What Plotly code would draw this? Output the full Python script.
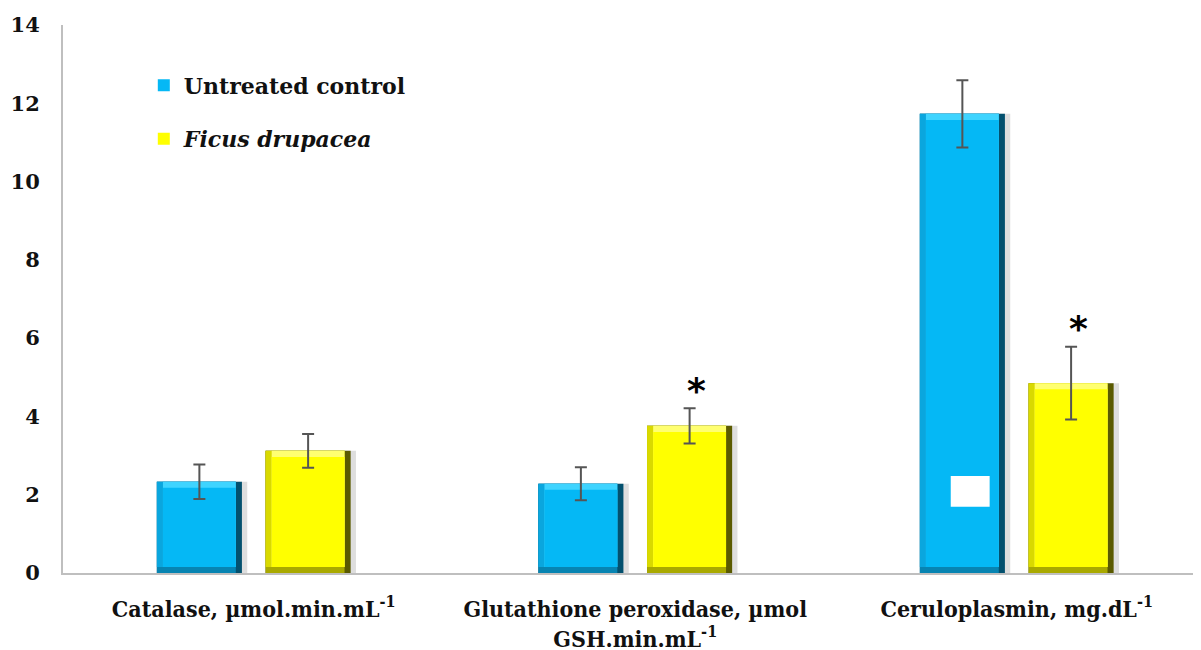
import plotly.graph_objects as go

categories = ["Catalase, µmol.min.mL<sup>-1</sup>",
              "Glutathione peroxidase, µmol<br>GSH.min.mL<sup>-1</sup>",
              "Ceruloplasmin, mg.dL<sup>-1</sup>"]
control_vals = [2.33, 2.28, 11.73]
control_err = [0.44, 0.42, 0.86]
ficus_vals = [3.12, 3.76, 4.85]
ficus_err = [0.43, 0.45, 0.93]
significant = [False, True, True]
yticks = [0, 2, 4, 6, 8, 10, 12, 14]

x = [0, 1, 2]
W = 0.223
off_c = -0.254
off_f = 0.031
BX = 0.016   # bevel width in x units
BY = 0.155   # bevel height in y units

series = [
    dict(vals=control_vals, err=control_err, off=off_c, name="Untreated control",
         right="#03506E", bottom="#0784B2", left="#0AA6DE", top="#3FD4FF",
         main="#05B8F5"),
    dict(vals=ficus_vals, err=ficus_err, off=off_f, name="<i>Ficus drupacea</i>",
         right="#5A5A00", bottom="#A9A900", left="#D9D900", top="#FFFF70",
         main="#FFFF00"),
]

fig = go.Figure()
# soft shadows
for s in series:
    fig.add_trace(go.Bar(x=x, y=s["vals"], width=W, offset=s["off"] + 0.014,
                         marker=dict(color="rgba(0,0,0,0.13)", line=dict(width=0)),
                         showlegend=False, hoverinfo="skip"))


def layer(fig, x, y, base, width, offset, color, **kw):
    fig.add_trace(go.Bar(x=x, y=y, base=base, width=width, offset=offset,
                         marker=dict(color=color, line=dict(width=0)), **kw))


for k, s in enumerate(series):
    v = s["vals"]
    o = s["off"]
    nolg = dict(showlegend=False, hoverinfo="skip")
    layer(fig, x, v, [0] * 3, W, o, s["right"], **nolg)
    layer(fig, x, v, [0] * 3, W - BX, o, s["bottom"], **nolg)
    layer(fig, x, [vi - BY for vi in v], [BY] * 3, W - BX, o, s["left"], **nolg)
    layer(fig, x, [vi - BY for vi in v], [BY] * 3, W - 2 * BX, o + BX, s["top"], **nolg)
    layer(fig, x, [vi - 2 * BY for vi in v], [BY] * 3, W - 2 * BX, o + BX, s["main"],
          name=s["name"], legendgroup=str(k))

# error bars on top
for s in series:
    fig.add_trace(go.Bar(x=x, y=s["vals"], width=W, offset=s["off"],
                         marker=dict(color="rgba(0,0,0,0)", line=dict(width=0)),
                         error_y=dict(type="data", array=s["err"], color="#555555",
                                      thickness=2, width=6),
                         showlegend=False, hoverinfo="skip"))

for i, sg in enumerate(significant):
    if sg:
        fig.add_annotation(x=x[i] + off_f + W / 2, y=ficus_vals[i] + ficus_err[i],
                           text="<b>*</b>", showarrow=False, yshift=18, xshift=7,
                           font=dict(size=36, color="black", family="DejaVu Sans"))

# white patch artifact on ceruloplasmin bar
fig.add_shape(type="rect", x0=1.827, x1=1.929, y0=1.69, y1=2.48,
              fillcolor="white", line=dict(width=0), layer="above")

fig.update_layout(
    width=1193, height=642,
    margin=dict(l=55, r=0, t=17, b=77),
    plot_bgcolor="white", paper_bgcolor="white",
    barmode="overlay",
    showlegend=True,
    legend=dict(x=0.071, y=0.928, xanchor="left", yanchor="top",
                font=dict(family="DejaVu Serif", size=22, color="#111111", weight="bold"),
                tracegroupgap=22, bgcolor="rgba(0,0,0,0)", itemwidth=30),
    xaxis=dict(range=[-0.5, 2.483], tickmode="array", tickvals=x, ticktext=categories,
               showline=True, linecolor="#BFBFBF", linewidth=2, ticks="",
               showgrid=False, zeroline=False, automargin=False, ticklabelstandoff=14,
               tickfont=dict(family="DejaVu Serif Condensed", size=23, color="#111111",
                             weight="bold")),
    yaxis=dict(range=[0, 14], tickmode="array", tickvals=yticks,
               showline=True, linecolor="#BFBFBF", linewidth=2, ticks="",
               showgrid=False, zeroline=False, ticklabelstandoff=17, automargin=False,
               tickfont=dict(family="DejaVu Serif", size=21, color="#111111",
                             weight="bold")),
    font=dict(family="DejaVu Serif"),
)

fig.write_html("out.html")
